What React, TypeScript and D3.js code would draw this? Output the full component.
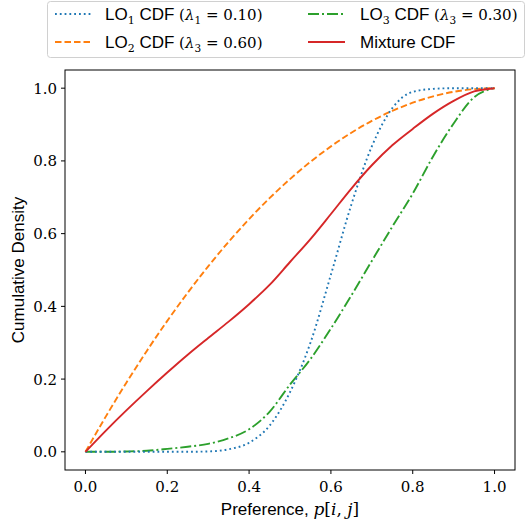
import React from 'react';
import * as d3 from 'd3';

const xs = [0, 0.05, 0.1, 0.15, 0.2, 0.25, 0.3, 0.35, 0.4, 0.45, 0.5, 0.55, 0.6, 0.65, 0.7, 0.75, 0.8, 0.85, 0.9, 0.95, 1.0];
const lo1 = [0, 0, 0, 0, 0, 0, 0.001, 0.007, 0.025, 0.072, 0.164, 0.30, 0.487, 0.68, 0.84, 0.945, 0.99, 0.998, 1, 1, 1];
const lo2 = [0, 0.0975, 0.19, 0.2775, 0.36, 0.4375, 0.51, 0.5775, 0.64, 0.6975, 0.75, 0.7975, 0.84, 0.8775, 0.91, 0.9375, 0.96, 0.9775, 0.99, 0.9975, 1];
const lo3 = [0, 0, 0.001, 0.003, 0.008, 0.014, 0.022, 0.037, 0.062, 0.11, 0.185, 0.255, 0.339, 0.43, 0.525, 0.619, 0.71, 0.813, 0.903, 0.975, 1];
const mix = [0, 0.0585, 0.114, 0.167, 0.218, 0.267, 0.313, 0.358, 0.406, 0.459, 0.522, 0.585, 0.654, 0.724, 0.788, 0.843, 0.888, 0.93, 0.965, 0.991, 1];
const ticks = [0, 0.2, 0.4, 0.6, 0.8, 1.0];
const tickLabels = ['0.0', '0.2', '0.4', '0.6', '0.8', '1.0'];

const SERIF = "'DejaVu Serif', serif";
const SANS = "'Liberation Sans', Arial, sans-serif";
const serif = { fontFamily: SERIF };
const sans = { fontFamily: SANS };
const serifIt = { fontFamily: SERIF, fontStyle: 'italic' as const };

export default function App() {
  const x = d3.scaleLinear().domain([-0.05, 1.05]).range([65, 515]);
  const y = d3.scaleLinear().domain([-0.05, 1.05]).range([470, 70]);
  const line = (ys: number[]) =>
    d3.line<number>().x((_, i) => x(xs[i])).y((d) => y(d)).curve(d3.curveMonotoneX)(ys) || '';

  const series = [
    { data: lo3, color: '#2ca02c', dash: '11,3,2,3' },
    { data: lo2, color: '#ff7f0e', dash: '6.5,3' },
    { data: lo1, color: '#1f77b4', dash: '1.8,3' },
    { data: mix, color: '#d62728', dash: undefined },
  ];

  const lw = 1.9;
  const m = 15;

  const legendLabel = (n: string, lam: string, val: string) => (
    <>
      <tspan style={sans}>LO</tspan>
      <tspan dy={4} style={{ ...serif, fontSize: 11 }}>{n}</tspan>
      <tspan dy={-4} style={sans}> CDF </tspan>
      <tspan style={{ ...serif, fontSize: m }}>(</tspan>
      <tspan style={{ ...serifIt, fontSize: m }}>λ</tspan>
      <tspan dy={4} style={{ ...serif, fontSize: 10.5 }}>{lam}</tspan>
      <tspan dy={-4} style={{ ...serif, fontSize: m }}>{` = ${val})`}</tspan>
    </>
  );

  return (
    <svg width={526} height={526} style={{ position: 'absolute', left: 0, top: 0, background: '#fff' }}>
      <rect x={0} y={0} width={526} height={526} fill="#fff" />
      {series.map((s, i) => (
        <path key={i} d={line(s.data)} fill="none" stroke={s.color} strokeWidth={lw}
          strokeDasharray={s.dash} strokeLinecap="butt" />
      ))}
      <rect x={65} y={70} width={450} height={400} fill="none" stroke="#000" strokeWidth={1} />
      {ticks.map((t, i) => (
        <g key={'x' + i}>
          <line x1={x(t)} x2={x(t)} y1={470} y2={474} stroke="#000" strokeWidth={1} />
          <text x={x(t)} y={492} textAnchor="middle" style={{ ...serif, fontSize: 15 }}>{tickLabels[i]}</text>
        </g>
      ))}
      {ticks.map((t, i) => (
        <g key={'y' + i}>
          <line x1={61} x2={65} y1={y(t)} y2={y(t)} stroke="#000" strokeWidth={1} />
          <text x={57} y={y(t) + 5.5} textAnchor="end" style={{ ...serif, fontSize: 15 }}>{tickLabels[i]}</text>
        </g>
      ))}
      <text x={290} y={515} textAnchor="middle" style={{ ...sans, fontSize: 17 }}>
        <tspan style={sans}>Preference, </tspan>
        <tspan style={serifIt}>p</tspan>
        <tspan style={serif}>[</tspan>
        <tspan style={serifIt}>i</tspan>
        <tspan style={serif}>, </tspan>
        <tspan style={serifIt}>j</tspan>
        <tspan style={serif}>]</tspan>
      </text>
      <text transform="translate(24,270) rotate(-90)" textAnchor="middle" style={{ ...sans, fontSize: 17 }}>
        Cumulative Density
      </text>
      <rect x={47.5} y={1.5} width={477} height={56} rx={3} fill="#fff" fillOpacity={0.8} stroke="#d0d0d0" strokeWidth={1} />
      <line x1={55} x2={92} y1={14} y2={14} stroke="#1f77b4" strokeWidth={lw} strokeDasharray="1.8,3" />
      <line x1={55} x2={92} y1={42} y2={42} stroke="#ff7f0e" strokeWidth={lw} strokeDasharray="6.5,3" />
      <line x1={308} x2={345} y1={14} y2={14} stroke="#2ca02c" strokeWidth={lw} strokeDasharray="11,3,2,3" />
      <line x1={308} x2={345} y1={42} y2={42} stroke="#d62728" strokeWidth={lw} />
      <text x={105} y={20} style={{ fontSize: 17 }}>{legendLabel('1', '1', '0.10')}</text>
      <text x={105} y={48} style={{ fontSize: 17 }}>{legendLabel('2', '3', '0.60')}</text>
      <text x={360} y={20} style={{ fontSize: 17 }}>{legendLabel('3', '3', '0.30')}</text>
      <text x={360} y={48} style={{ ...sans, fontSize: 17 }}>Mixture CDF</text>
    </svg>
  );
}
